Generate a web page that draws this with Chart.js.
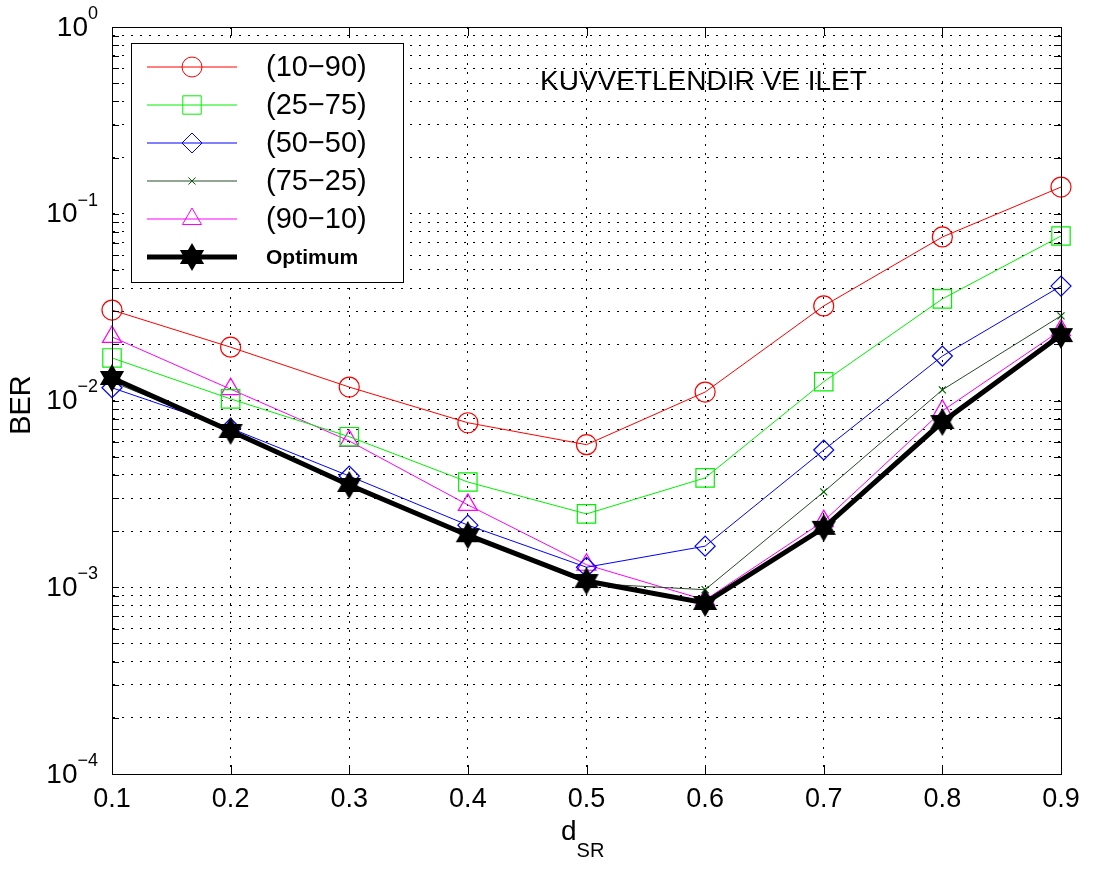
<!DOCTYPE html>
<html>
<head>
<meta charset="utf-8">
<script src="https://cdn.jsdelivr.net/npm/chart.js@4.4.1/dist/chart.umd.min.js"></script>
<style>
  body { margin: 0; background: #fff; }
  #wrap { width: 1096px; height: 870px; }
</style>
</head>
<body>
<div id="wrap"><canvas id="berChart" width="1096" height="870"></canvas></div>
<script>
// d_SR positions
const dsrValues = [0.1, 0.2, 0.3, 0.4, 0.5, 0.6, 0.7, 0.8, 0.9];

// BER
const ber10_90 = [0.0305, 0.0193, 0.0118, 0.0076, 0.0058, 0.0111, 0.0321, 0.0751, 0.139];
const ber25_75 = [0.0169, 0.0102, 0.0064, 0.00366, 0.00247, 0.00385, 0.0126, 0.035, 0.076];
const ber50_50 = [0.0117, 0.0071, 0.00394, 0.00215, 0.00128, 0.00166, 0.00543, 0.0173, 0.041];
const ber75_25 = [0.0126, 0.00695, 0.00357, 0.0019, 0.00105, 0.00097, 0.00324, 0.0114, 0.0284];
const ber90_10 = [0.0219, 0.0115, 0.00607, 0.00276, 0.00132, 0.000855, 0.00226, 0.0088, 0.0238];
const berOptimum = [0.0132, 0.00687, 0.00353, 0.0019, 0.00108, 0.000824, 0.00208, 0.00767, 0.0224];

const seriesLabels = ['(10\u221290)', '(25\u221275)', '(50\u221250)', '(75\u221225)', '(90\u221210)', 'Optimum'];

// log axis ticks: decades and mantissas (MATLAB style minor grid)
const yDecades = [-4, -3, -2, -1];
const yMantissas = [1, 2, 3, 4, 5, 6, 7, 8, 9];

const FONT = '"Liberation Sans", Arial, Helvetica, sans-serif';

function hexagram(size) {
  const c = document.createElement('canvas');
  c.width = size;
  c.height = size;
  const g = c.getContext('2d');
  const r = size / 2;
  g.fillStyle = '#000';
  [-Math.PI / 2, Math.PI / 2].forEach(a0 => {
    g.beginPath();
    for (let i = 0; i < 3; i++) {
      const a = a0 + i * 2 * Math.PI / 3;
      const px = r + r * Math.cos(a), py = r + r * Math.sin(a);
      if (i === 0) g.moveTo(px, py); else g.lineTo(px, py);
    }
    g.closePath();
    g.fill();
  });
  return c;
}
const starImg = hexagram(28);

function series(label, values, color, style, radius, width, markerColor) {
  return {
    label: label,
    data: dsrValues.map((x, i) => ({ x: x, y: values[i] })),
    borderColor: color,
    borderWidth: width,
    pointStyle: style,
    pointRadius: radius,
    pointBorderColor: markerColor || color,
    pointBackgroundColor: 'rgba(0,0,0,0)',
    pointBorderWidth: 1.2,
    tension: 0,
    clip: false
  };
}

const datasets = [
  series(seriesLabels[0], ber10_90, '#ff0000', 'circle', 10, 1),
  series(seriesLabels[1], ber25_75, '#00f000', 'rect', 13, 1),
  series(seriesLabels[2], ber50_50, '#0000ff', 'rectRot', 10, 1),
  series(seriesLabels[3], ber75_25, '#2a4a2a', 'crossRot', 5, 1, '#006400'),
  series(seriesLabels[4], ber90_10, '#ff00ff', 'triangle', 11, 1),
  series(seriesLabels[5], berOptimum, '#000000', starImg, 12, 5)
];
datasets[5].pointBackgroundColor = '#000';
datasets[5].order = -1;

const gridStyle = { color: '#000', lineWidth: 1, drawTicks: false };
const borderStyle = { color: '#000', width: 1, dash: [2, 7] };

// frame, inner ticks, y labels with exponents, axis titles, annotation, legend
const decorations = {
  id: 'decorations',
  afterDraw(chart) {
    const ctx = chart.ctx;
    const a = chart.chartArea;
    const xs = chart.scales.x, ys = chart.scales.y;
    ctx.save();

    // inner tick marks
    ctx.strokeStyle = '#000';
    ctx.lineWidth = 1;
    ctx.beginPath();
    ys.ticks.forEach(t => {
      const py = Math.round(ys.getPixelForValue(t.value)) + 0.5;
      ctx.moveTo(a.left, py); ctx.lineTo(a.left + 7, py);
      ctx.moveTo(a.right, py); ctx.lineTo(a.right - 7, py);
    });
    xs.ticks.forEach(t => {
      const px = Math.round(xs.getPixelForValue(t.value)) + 0.5;
      ctx.moveTo(px, a.bottom); ctx.lineTo(px, a.bottom - 9);
      ctx.moveTo(px, a.top); ctx.lineTo(px, a.top + 9);
    });
    ctx.stroke();

    // box
    ctx.strokeRect(Math.round(a.left) + 0.5, Math.round(a.top) + 0.5,
      Math.round(a.right - a.left), Math.round(a.bottom - a.top));

    // y labels 10^n
    ctx.fillStyle = '#000';
    ctx.textBaseline = 'middle';
    yDecades.concat([0]).forEach(e => {
      const py = ys.getPixelForValue(Math.pow(10, e));
      const sup = e === 0 ? '0' : '\u2212' + (-e);
      ctx.font = '18px ' + FONT;
      ctx.textAlign = 'right';
      const supW = ctx.measureText(sup).width;
      ctx.fillText(sup, 98, py - 13);
      ctx.font = '28px ' + FONT;
      ctx.fillText('10', 98 - supW, py + 1);
    });

    // axis titles
    ctx.save();
    ctx.translate(22, 405);
    ctx.rotate(-Math.PI / 2);
    ctx.textAlign = 'center';
    ctx.font = '29px ' + FONT;
    ctx.fillText('BER', 0, 0);
    ctx.restore();

    ctx.textAlign = 'left';
    ctx.textBaseline = 'alphabetic';
    ctx.font = '28px ' + FONT;
    ctx.fillText('d', 561, 840);
    const dW = ctx.measureText('d').width;
    ctx.font = '20px ' + FONT;
    ctx.fillText('SR', 561 + dW, 857);

    // annotation
    ctx.font = '28px ' + FONT;
    ctx.fillText('KUVVETLENDIR VE ILET', 540, 90);

    // legend
    const lx = 131, ly = 43, lw = 272, lh = 239;
    ctx.fillStyle = '#fff';
    ctx.fillRect(lx, ly, lw, lh);
    ctx.strokeStyle = '#000';
    ctx.lineWidth = 1;
    ctx.strokeRect(lx + 0.5, ly + 0.5, lw, lh);
    chart.data.datasets.forEach((ds, i) => {
      const ry = 67 + i * 38;
      ctx.strokeStyle = ds.borderColor;
      ctx.lineWidth = ds.borderWidth;
      ctx.beginPath();
      ctx.moveTo(147, ry);
      ctx.lineTo(237, ry);
      ctx.stroke();
      ctx.strokeStyle = ds.pointBorderColor;
      ctx.fillStyle = ds.pointBackgroundColor;
      Chart.helpers.drawPoint(ctx, {
        pointStyle: ds.pointStyle,
        radius: ds.pointRadius,
        borderWidth: ds.pointBorderWidth,
        rotation: 0
      }, 192, ry);
      ctx.fillStyle = '#000';
      ctx.textBaseline = 'middle';
      ctx.textAlign = 'left';
      ctx.font = i === 5 ? 'bold 21px ' + FONT : '29px ' + FONT;
      ctx.fillText(ds.label, 266, ry + 1);
    });

    ctx.restore();
  }
};

const ctx = document.getElementById('berChart').getContext('2d');

const chart = new Chart(ctx, {
  type: 'line',
  data: { datasets: datasets },
  options: {
    responsive: false,
    animation: false,
    layout: { padding: { left: 0, top: 27, right: 35, bottom: 0 } },
    plugins: {
      legend: { display: false },
      tooltip: { enabled: false }
    },
    scales: {
      x: {
        type: 'linear',
        min: 0.1,
        max: 0.9,
        afterBuildTicks: scale => {
          scale.ticks = dsrValues.map(v => ({ value: v }));
        },
        afterFit: scale => { scale.height = 96; },
        ticks: {
          color: '#000',
          font: { family: FONT, size: 27 },
          padding: 9,
          maxRotation: 0,
          callback: v => Number(v).toFixed(1)
        },
        grid: gridStyle,
        border: borderStyle
      },
      y: {
        type: 'logarithmic',
        min: 1e-4,
        max: 1,
        afterBuildTicks: scale => {
          const t = [];
          yDecades.forEach(e => {
            yMantissas.forEach(m => t.push({ value: m * Math.pow(10, e) }));
          });
          t.push({ value: 1 });
          scale.ticks = t;
        },
        afterFit: scale => { scale.width = 112; },
        ticks: { display: false },
        grid: gridStyle,
        border: borderStyle
      }
    }
  },
  plugins: [decorations]
});
</script>
</body>
</html>
